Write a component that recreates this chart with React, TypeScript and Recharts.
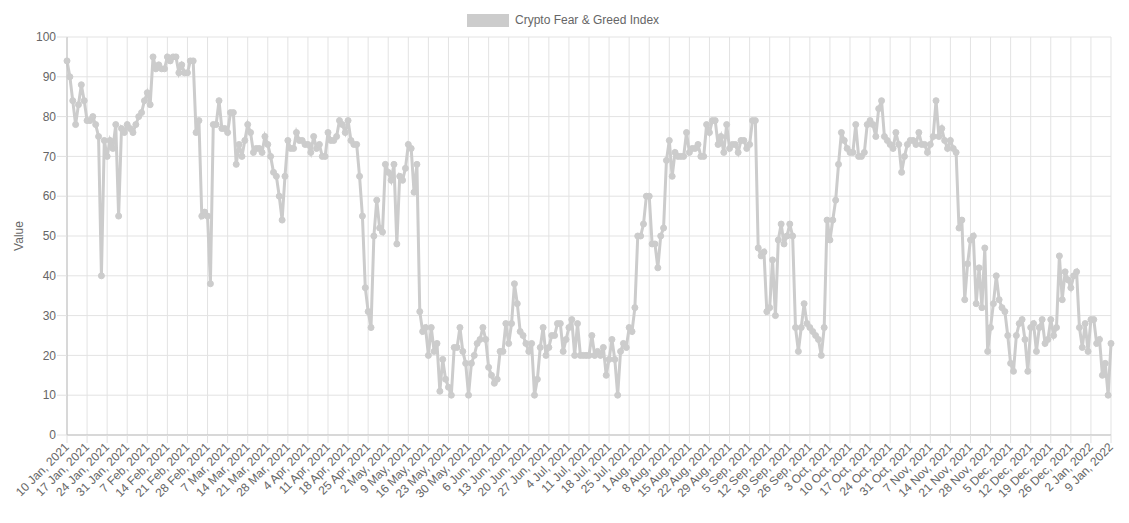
import React from 'react';
import { LineChart, Line, XAxis, YAxis, CartesianGrid, Label } from 'recharts';

const seriesName = 'Crypto Fear & Greed Index';
const axisTitle = 'Value';

// one value per day, 10 Jan 2021 .. 9 Jan 2022
const values: number[] = [
  94, 90, 84, 78, 83, 88, 84, 79, 79, 80,
  78, 75, 40, 74, 70, 74, 72, 78, 55, 77,
  76, 78, 77, 76, 78, 80, 81, 84, 86, 83,
  95, 92, 93, 92, 92, 95, 94, 95, 95, 91,
  93, 91, 91, 94, 94, 76, 79, 55, 56, 55,
  38, 78, 78, 84, 77, 77, 76, 81, 81, 68,
  73, 70, 74, 78, 76, 71, 72, 72, 71, 75,
  73, 70, 66, 65, 60, 54, 65, 74, 72, 72,
  76, 74, 74, 73, 73, 71, 75, 72, 73, 70,
  70, 76, 74, 74, 75, 79, 78, 76, 79, 74,
  73, 73, 65, 55, 37, 31, 27, 50, 59, 52,
  51, 68, 66, 64, 68, 48, 65, 64, 67, 73,
  72, 61, 68, 31, 26, 27, 20, 27, 21, 23,
  11, 19, 14, 12, 10, 22, 22, 27, 21, 18,
  10, 18, 20, 23, 24, 27, 24, 17, 15, 13,
  14, 21, 21, 28, 23, 28, 38, 33, 26, 25,
  23, 21, 23, 10, 14, 22, 27, 20, 22, 25,
  25, 28, 28, 21, 24, 27, 29, 20, 28, 20,
  20, 20, 20, 25, 20, 21, 20, 22, 15, 19,
  24, 19, 10, 21, 23, 22, 27, 26, 32, 50,
  50, 53, 60, 60, 48, 48, 42, 50, 52, 69,
  74, 65, 71, 70, 70, 70, 76, 71, 72, 72,
  73, 70, 70, 78, 76, 79, 79, 73, 75, 71,
  78, 72, 73, 73, 71, 74, 74, 72, 73, 79,
  79, 47, 45, 46, 31, 32, 44, 30, 49, 53,
  48, 50, 53, 50, 27, 21, 27, 33, 28, 27,
  26, 25, 24, 20, 27, 54, 49, 54, 59, 68,
  76, 74, 72, 71, 71, 78, 70, 70, 71, 78,
  79, 78, 75, 82, 84, 75, 74, 73, 72, 76,
  73, 66, 70, 73, 74, 74, 73, 76, 73, 73,
  71, 73, 75, 84, 75, 77, 74, 72, 74, 72,
  71, 52, 54, 34, 43, 49, 50, 33, 42, 32,
  47, 21, 27, 33, 40, 34, 32, 31, 25, 18,
  16, 25, 28, 29, 24, 16, 27, 28, 21, 27,
  29, 23, 24, 29, 25, 27, 45, 34, 41, 39,
  37, 40, 41, 27, 22, 28, 21, 29, 29, 23,
  24, 15, 18, 10, 23,
];

// weekly tick labels (every 7th day)
const tickLabels: string[] = [
  '10 Jan, 2021', '17 Jan, 2021', '24 Jan, 2021', '31 Jan, 2021',
  '7 Feb, 2021', '14 Feb, 2021', '21 Feb, 2021', '28 Feb, 2021',
  '7 Mar, 2021', '14 Mar, 2021', '21 Mar, 2021', '28 Mar, 2021',
  '4 Apr, 2021', '11 Apr, 2021', '18 Apr, 2021', '25 Apr, 2021',
  '2 May, 2021', '9 May, 2021', '16 May, 2021', '23 May, 2021', '30 May, 2021',
  '6 Jun, 2021', '13 Jun, 2021', '20 Jun, 2021', '27 Jun, 2021',
  '4 Jul, 2021', '11 Jul, 2021', '18 Jul, 2021', '25 Jul, 2021',
  '1 Aug, 2021', '8 Aug, 2021', '15 Aug, 2021', '22 Aug, 2021', '29 Aug, 2021',
  '5 Sep, 2021', '12 Sep, 2021', '19 Sep, 2021', '26 Sep, 2021',
  '3 Oct, 2021', '10 Oct, 2021', '17 Oct, 2021', '24 Oct, 2021', '31 Oct, 2021',
  '7 Nov, 2021', '14 Nov, 2021', '21 Nov, 2021', '28 Nov, 2021',
  '5 Dec, 2021', '12 Dec, 2021', '19 Dec, 2021', '26 Dec, 2021',
  '2 Jan, 2022', '9 Jan, 2022',
];

const yTicks: number[] = [0, 10, 20, 30, 40, 50, 60, 70, 80, 90, 100];

const data = values.map((v, i) => ({ day: i, value: v }));
const xTicks = tickLabels.map((_, k) => k * 7);

const FONT = '"Liberation Sans", Arial, Helvetica, sans-serif';
const TEXT = '#666666';
const LINE = '#cccccc';

const XTick = (props: any) => {
  const { x, y, payload } = props;
  const label = tickLabels[Math.round(payload.value / 7)];
  return (
    <g transform={`translate(${x},${y + 2})`}>
      <text
        transform="rotate(-45)"
        textAnchor="end"
        dy={4}
        fontSize={12}
        fontFamily={FONT}
        fill={TEXT}
      >
        {label}
      </text>
    </g>
  );
};

export default function App() {
  return (
    <div style={{ position: 'absolute', left: 0, top: 0, width: 1129, height: 523, background: '#fff' }}>
      <div
        style={{
          position: 'absolute',
          left: 467,
          top: 14,
          width: 42,
          height: 13,
          background: LINE,
        }}
      />
      <div
        style={{
          position: 'absolute',
          left: 515,
          top: 13,
          fontFamily: FONT,
          fontSize: 12,
          lineHeight: '15px',
          color: TEXT,
          whiteSpace: 'nowrap',
        }}
      >
        {seriesName}
      </div>
      <LineChart
        width={1129}
        height={523}
        data={data}
        margin={{ top: 37, right: 18, left: 0, bottom: 0 }}
      >
        <CartesianGrid stroke="#e3e3e3" strokeWidth={1} />
        <XAxis
          dataKey="day"
          type="number"
          domain={[0, 364]}
          ticks={xTicks}
          interval={0}
          height={88}
          tickSize={8}
          tickMargin={0}
          tick={<XTick />}
          axisLine={{ stroke: '#bfbfbf' }}
          tickLine={{ stroke: '#e0e0e0' }}
        />
        <YAxis
          type="number"
          domain={[0, 100]}
          ticks={yTicks}
          interval={0}
          width={67}
          tickSize={10}
          tickMargin={1}
          tick={{ fontSize: 12, fill: TEXT, fontFamily: FONT }}
          axisLine={{ stroke: '#bfbfbf' }}
          tickLine={{ stroke: '#e0e0e0' }}
        >
          <Label
            content={(p: any) => {
              const vb = p.viewBox || { x: 0, y: 37, width: 67, height: 398 };
              const cx = vb.x + 23;
              const cy = vb.y + vb.height / 2;
              return (
                <text
                  x={cx}
                  y={cy}
                  transform={`rotate(-90, ${cx}, ${cy})`}
                  textAnchor="middle"
                  fontSize={12}
                  fontFamily={FONT}
                  fill={TEXT}
                >
                  {axisTitle}
                </text>
              );
            }}
          />
        </YAxis>
        <Line
          type="linear"
          dataKey="value"
          name={seriesName}
          stroke={LINE}
          strokeWidth={3}
          dot={{ r: 3, fill: LINE, stroke: LINE, strokeWidth: 1 }}
          activeDot={false}
          isAnimationActive={false}
        />
      </LineChart>
    </div>
  );
}
